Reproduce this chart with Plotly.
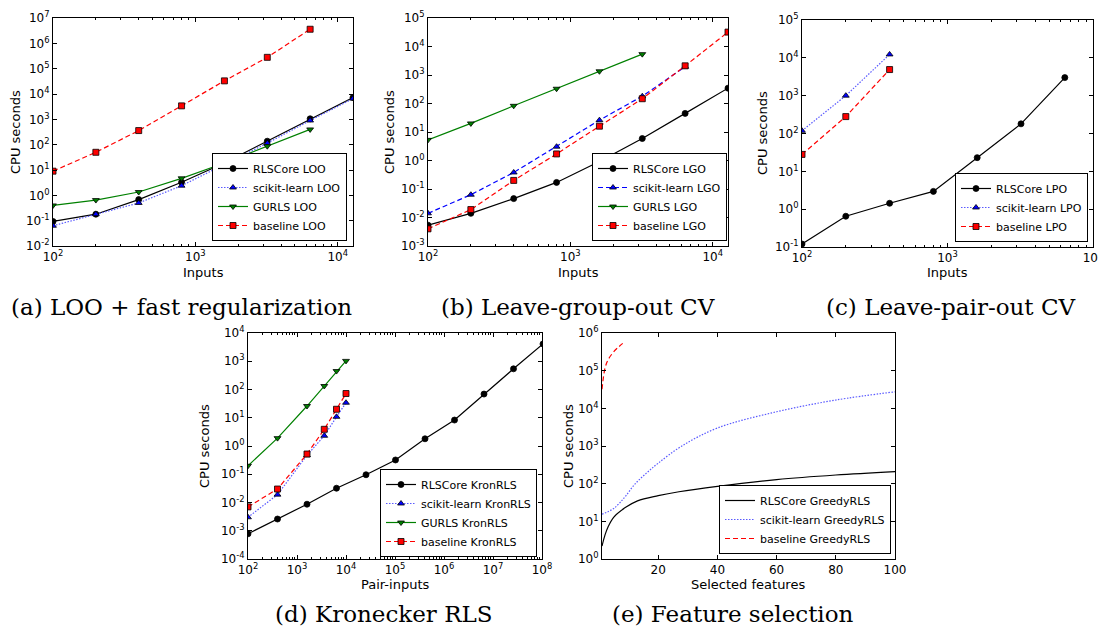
import plotly.graph_objects as go

W, H = 1106, 632
OFF = 8  # page body margin offset

# ---------------- data ----------------
inputs_a = [100, 200, 400, 800, 1600, 3200, 6400, 12800]
rls_loo = [0.093, 0.18, 0.68, 3.3, 19, 137, 1050, 7200]
skl_loo = [0.063, 0.18, 0.5, 2.4, 16, 115, 900, 6600]
gurls_loo = [0.4, 0.65, 1.35, 4.7, 19, 87, 400]
base_loo = [9, 50, 360, 3400, 33000, 280000, 3.6e6]

inputs_b = [100, 200, 400, 800, 1600, 3200, 6400, 12800]
rls_lgo = [0.0054, 0.014, 0.046, 0.17, 0.92, 5.9, 45, 345]
skl_lgo = [0.014, 0.063, 0.38, 3.05, 26, 180, 1950]
gurls_lgo = [5.3, 20, 83, 330, 1350, 5400]
base_lgo = [0.004, 0.019, 0.2, 1.7, 16, 147, 2100, 32000]

inputs_c = [100, 200, 400, 800, 1600, 3200, 6400]
rls_lpo = [0.12, 0.65, 1.43, 2.95, 23, 180, 3000]
skl_lpo = [118, 1000, 12300]
base_lpo = [28, 280, 4900]

pairs_rls = [100, 400, 1600, 6400, 25600, 102400, 409600, 1638400, 6553600, 26214400, 104857600]
rls_kron = [0.00078, 0.0026, 0.0087, 0.032, 0.096, 0.32, 1.8, 8.3, 69, 540, 4100]
pairs_other = [100, 400, 1600, 3600, 6400, 10000]
skl_kron = [0.003, 0.019, 0.47, 2.3, 10.8, 34]
gurls_kron = [0.2, 1.9, 26, 133, 450, 1030]
base_kron = [0.007, 0.03, 0.52, 3.9, 20, 72]

feat_rls = [1, 2, 3, 5, 9, 13, 20, 27, 40, 60, 80, 100]
rls_greedy = [2.2, 4.3, 7, 13, 23.5, 35, 48, 61, 85, 128, 170, 210]
feat_skl = [1, 3, 5, 7, 9, 12, 16, 20, 28, 40, 60, 80, 100]
skl_greedy = [15.5, 18, 22, 31, 47, 95, 190, 350, 1000, 3000, 8100, 16600, 27500]
feat_base = [1, 2, 3, 5, 8]
base_greedy = [32000, 115000, 190000, 320000, 530000]

captions = ["(a) LOO + fast regularization", "(b) Leave-group-out CV",
            "(c) Leave-pair-out CV", "(d) Kronecker RLS", "(e) Feature selection"]
x_titles = ["Inputs", "Inputs", "Inputs", "Pair-inputs", "Selected features"]
y_title = "CPU seconds"

# ---------------- layout helpers ----------------
def fx(x):
    return (x - OFF) / W

def fy(y):
    return 1 - (y - OFF) / H

def px(x0, x1):
    return [fx(x0), fx(x1)]

def py(y0, y1):
    return [fy(y1), fy(y0)]

SANS = "DejaVu Sans"
BLACK = "#000000"
BLUE = "#0000ff"
LBLUE = "#5a5aff"
GREEN = "#008000"
RED = "#ff0000"

def sup(e):
    return "10<sup>%d</sup>" % e

def log_axis(lo, hi, rng, minor=True):
    vals = [10.0 ** e for e in range(lo, hi + 1)]
    txt = [sup(e) for e in range(lo, hi + 1)]
    d = dict(type="log", range=rng, tickmode="array", tickvals=vals, ticktext=txt,
             ticks="inside", ticklen=4, tickwidth=1, tickcolor=BLACK,
             mirror="allticks", showline=True, linecolor=BLACK, linewidth=1,
             showgrid=False, zeroline=False, automargin=False, ticklabeloverflow="allow",
             tickfont=dict(family=SANS, size=12, color=BLACK))
    if minor:
        mv = [m * 10.0 ** e for e in range(lo - 1, hi + 1) for m in range(2, 10)]
        d["minor"] = dict(tickmode="array", tickvals=mv, ticks="inside", ticklen=2,
                          tickcolor=BLACK, showgrid=False)
    return d

fig = go.Figure()

panels = {
    "a": dict(x=(53, 353), y=(18, 246)),
    "b": dict(x=(428, 728), y=(18, 246)),
    "c": dict(x=(802, 1093), y=(20, 247)),
    "d": dict(x=(248, 542), y=(333, 559)),
    "e": dict(x=(602, 895), y=(333, 559)),
}
names = ["a", "b", "c", "d", "e"]
axid = {n: ("" if i == 0 else str(i + 1)) for i, n in enumerate(names)}
legid = {n: ("legend" if i == 0 else "legend%d" % (i + 1)) for i, n in enumerate(names)}

def add(panel, x, y, name, color, dash, symbol=None, lcolor=None, shape="linear"):
    mode = "lines+markers" if symbol else "lines"
    tr = go.Scatter(x=x, y=y, name=name, mode=mode,
                    xaxis="x" + axid[panel], yaxis="y" + axid[panel],
                    legend=legid[panel],
                    line=dict(color=lcolor or color, width=1.2, dash=dash, shape=shape),
                    cliponaxis=True)
    if symbol:
        tr.marker = dict(symbol=symbol, size=6, color=color, line=dict(color=BLACK, width=0.8))
    fig.add_trace(tr)

DASH = "5px,3px"
DOT = "1.5px,1.5px"

# (a)
add("a", inputs_a, rls_loo, "RLSCore LOO", BLACK, "solid", "circle")
add("a", inputs_a, skl_loo, "scikit-learn LOO", BLUE, DOT, "triangle-up", LBLUE)
add("a", inputs_a[:len(gurls_loo)], gurls_loo, "GURLS LOO", GREEN, "solid", "triangle-down")
add("a", inputs_a[:len(base_loo)], base_loo, "baseline LOO", RED, DASH, "square")
# (b)
add("b", inputs_b, rls_lgo, "RLSCore LGO", BLACK, "solid", "circle")
add("b", inputs_b[:len(skl_lgo)], skl_lgo, "scikit-learn LGO", BLUE, DASH, "triangle-up")
add("b", inputs_b[:len(gurls_lgo)], gurls_lgo, "GURLS LGO", GREEN, "solid", "triangle-down")
add("b", inputs_b, base_lgo, "baseline LGO", RED, DASH, "square")
# (c)
add("c", inputs_c, rls_lpo, "RLSCore LPO", BLACK, "solid", "circle")
add("c", inputs_c[:len(skl_lpo)], skl_lpo, "scikit-learn LPO", BLUE, DOT, "triangle-up", LBLUE)
add("c", inputs_c[:len(base_lpo)], base_lpo, "baseline LPO", RED, DASH, "square")
# (d)
add("d", pairs_rls, rls_kron, "RLSCore KronRLS", BLACK, "solid", "circle")
add("d", pairs_other, skl_kron, "scikit-learn KronRLS", BLUE, DOT, "triangle-up", LBLUE)
add("d", pairs_other, gurls_kron, "GURLS KronRLS", GREEN, "solid", "triangle-down")
add("d", pairs_other, base_kron, "baseline KronRLS", RED, DASH, "square")
# (e)
add("e", feat_rls, rls_greedy, "RLSCore GreedyRLS", BLACK, "solid", shape="spline")
add("e", feat_skl, skl_greedy, "scikit-learn GreedyRLS", LBLUE, DOT, shape="spline")
add("e", feat_base, base_greedy, "baseline GreedyRLS", RED, DASH, shape="spline")

layout = dict(width=W, height=H, margin=dict(l=0, r=0, t=0, b=0, autoexpand=False),
              paper_bgcolor="white", plot_bgcolor="white", showlegend=True)

axes_spec = {
    "a": (dict(log=(2, 4), rng=[2, 4.1072]), dict(log=(-2, 7), rng=[-2, 7])),
    "b": (dict(log=(2, 4), rng=[2, 4.1072]), dict(log=(-3, 5), rng=[-3, 5])),
    "c": (dict(log=(2, 4), rng=[2, 4]), dict(log=(-1, 5), rng=[-1, 5])),
    "d": (dict(log=(2, 8), rng=[2, 8]), dict(log=(-4, 4), rng=[-4, 4])),
    "e": (None, dict(log=(0, 6), rng=[0, 6])),
}

for n in names:
    xs, ys = axes_spec[n]
    k = axid[n]
    if xs is not None:
        xa = log_axis(xs["log"][0], xs["log"][1], xs["rng"], minor=True)
    else:
        xa = dict(type="linear", range=[1, 100], tickmode="array", tickvals=[20, 40, 60, 80, 100],
                  ticks="inside", ticklen=4, tickwidth=1, tickcolor=BLACK, mirror="allticks",
                  showline=True, linecolor=BLACK, linewidth=1, showgrid=False, zeroline=False,
                  automargin=False, ticklabeloverflow="allow",
                  tickfont=dict(family=SANS, size=12, color=BLACK))
    xa.update(domain=px(*panels[n]["x"]), anchor="y" + k)
    ya = log_axis(ys["log"][0], ys["log"][1], ys["rng"], minor=False)
    ya.update(domain=py(*panels[n]["y"]), anchor="x" + k)
    layout["xaxis" + k] = xa
    layout["yaxis" + k] = ya

legpos = {"a": (347, 241), "b": (727, 241), "c": (1088, 242), "d": (537, 557), "e": (891, 554)}
for n in names:
    lx, ly = legpos[n]
    layout[legid[n]] = dict(x=fx(lx), y=fy(ly), xanchor="right", yanchor="bottom",
                            xref="paper", yref="paper",
                            bgcolor="white", bordercolor=BLACK, borderwidth=1,
                            font=dict(family=SANS, size=11, color=BLACK),
                            tracegroupgap=0, itemwidth=30)

annotations = []
cap_pos = [(181, 307), (578, 307), (950, 307), (384, 614), (733, 614)]
for text, (cx, cy) in zip(captions, cap_pos):
    annotations.append(dict(text=text, x=fx(cx), y=fy(cy), xref="paper", yref="paper",
                            xanchor="center", yanchor="middle", showarrow=False,
                            font=dict(family="DejaVu Serif", size=23, color=BLACK)))

xt_pos = [(203, 272), (578, 272), (947, 272), (395, 584), (748, 584)]
for text, (cx, cy) in zip(x_titles, xt_pos):
    annotations.append(dict(text=text, x=fx(cx), y=fy(cy), xref="paper", yref="paper",
                            xanchor="center", yanchor="middle", showarrow=False,
                            font=dict(family=SANS, size=13, color=BLACK)))

yt_pos = [(16, 132), (390, 132), (763, 133), (204, 446), (568, 446)]
for cx, cy in yt_pos:
    annotations.append(dict(text=y_title, x=fx(cx), y=fy(cy), xref="paper", yref="paper",
                            xanchor="center", yanchor="middle", showarrow=False, textangle=-90,
                            font=dict(family=SANS, size=13, color=BLACK)))
layout["annotations"] = annotations

fig.update_layout(**layout)
fig.write_html("out.html")
